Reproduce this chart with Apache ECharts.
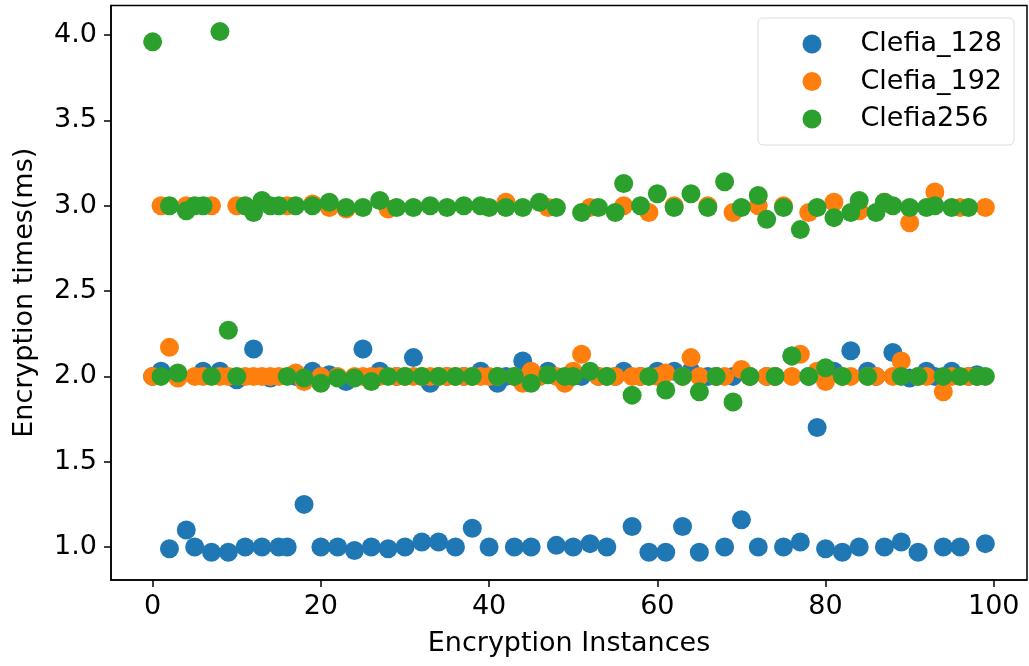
<!DOCTYPE html>
<html>
<head>
<meta charset="utf-8">
<script src="https://cdn.jsdelivr.net/npm/echarts@6/dist/echarts.min.js"></script>
<style>
html,body{margin:0;padding:0;background:#fff;}
#chart{width:1029px;height:666px;}
</style>
</head>
<body>
<div id="chart"></div>
<script>
const instances = [0,1,2,3,4,5,6,7,8,9,10,11,12,13,14,15,16,17,18,19,20,21,22,23,24,25,26,27,28,29,30,31,32,33,34,35,36,37,38,39,40,41,42,43,44,45,46,47,48,49,50,51,52,53,54,55,56,57,58,59,60,61,62,63,64,65,66,67,68,69,70,71,72,73,74,75,76,77,78,79,80,81,82,83,84,85,86,87,88,89,90,91,92,93,94,95,96,97,98,99];

const clefia128 = [2.00,2.03,0.99,2.00,1.10,1.00,2.03,0.97,2.03,0.97,
1.98,1.00,2.16,1.00,1.99,1.00,1.00,2.00,1.25,2.03,
1.00,2.01,1.00,1.97,0.98,2.16,1.00,2.03,0.99,2.00,
1.00,2.11,1.03,1.96,1.03,2.00,1.00,2.00,1.11,2.03,
1.00,1.96,2.00,1.00,2.09,1.00,2.00,2.03,1.01,1.98,
1.00,2.00,1.02,2.00,1.00,2.00,2.03,1.12,2.00,0.97,
2.03,0.97,2.03,1.12,2.03,0.97,2.00,2.00,1.00,2.00,
1.16,2.00,1.00,2.00,2.00,1.00,2.12,1.03,2.00,1.70,
0.99,2.03,0.97,2.15,1.00,2.03,2.00,1.00,2.14,1.03,
1.99,0.97,2.03,2.00,1.00,2.03,1.00,2.00,2.01,1.02];

const clefia192 = [2.00,3.00,2.17,1.99,3.00,2.00,2.00,3.00,2.00,2.00,
3.00,2.00,2.00,2.00,2.00,2.00,3.00,2.02,1.97,3.01,
2.00,2.99,2.00,2.98,2.00,2.00,2.00,2.00,2.98,2.00,
2.00,2.00,2.00,2.00,2.00,2.00,2.00,2.00,2.00,2.00,
2.00,2.00,3.02,2.00,1.96,2.03,2.00,2.99,2.00,1.96,
2.03,2.13,2.99,2.00,2.00,2.00,3.00,2.00,2.00,2.96,
2.00,2.02,3.00,2.00,2.11,2.00,3.00,2.00,2.00,2.96,
2.04,2.00,3.00,2.00,2.00,3.00,2.00,2.13,2.96,2.03,
1.97,3.02,2.00,2.00,2.97,2.00,2.00,3.02,2.00,2.09,
2.90,2.00,2.00,3.08,1.91,2.00,2.99,2.00,2.00,2.99];

const clefia256 = [3.96,2.00,3.00,2.02,2.97,3.00,3.00,2.00,4.02,2.27,
2.00,3.00,2.96,3.03,3.00,3.00,2.00,3.00,1.99,3.00,
1.96,3.02,1.99,2.99,1.99,2.99,1.97,3.03,2.00,2.99,
2.00,2.99,2.00,3.00,2.00,2.99,2.00,3.00,2.00,3.00,
2.99,2.00,2.99,2.00,2.99,1.96,3.02,2.01,2.99,2.00,
2.00,2.96,2.03,2.99,2.00,2.96,3.13,1.89,3.00,2.00,
3.07,1.92,2.99,2.00,3.07,1.91,2.99,2.00,3.14,1.85,
2.99,2.00,3.06,2.92,2.00,2.99,2.12,2.86,2.00,2.99,
2.05,2.93,2.00,2.96,3.03,2.00,2.96,3.02,3.00,2.00,
2.99,2.00,2.99,3.00,2.00,2.99,2.00,2.99,2.00,2.00];

const seriesNames = ['Clefia_128','Clefia_192','Clefia256'];
const seriesColors = ['#1f77b4','#ff7f0e','#2ca02c'];
const xTicks = [0,20,40,60,80,100];
const yTicks = [1.0,1.5,2.0,2.5,3.0,3.5,4.0];

const FONT = 'DejaVu Sans';
const pair = (vals) => instances.map((x, i) => [x, vals[i]]);
const allValues = [clefia128, clefia192, clefia256];

const chart = echarts.init(document.getElementById('chart'), null, {renderer: 'canvas'});
chart.setOption({
  animation: false,
  backgroundColor: '#ffffff',
  textStyle: {fontFamily: FONT},
  grid: {left: 111, right: 2, top: 5.5, bottom: 86, show: true, borderColor: '#000', borderWidth: 1.5, backgroundColor: 'transparent'},
  legend: {
    orient: 'vertical',
    left: 758, top: 18,
    padding: [12.5, 12, 12.5, 44.5],
    itemWidth: 87, itemHeight: 19, itemGap: 10.5,
    icon: 'circle',
    selectedMode: false,
    borderColor: '#dcdcdc', borderWidth: 1, borderRadius: 5,
    backgroundColor: 'rgba(255,255,255,0.8)',
    textStyle: {fontFamily: FONT, fontSize: 27, color: '#000', lineHeight: 27},
    data: seriesNames
  },
  xAxis: {
    type: 'value', min: -4.95, max: 103.95,
    name: 'Encryption Instances', nameLocation: 'middle', nameGap: 50,
    nameTextStyle: {fontFamily: FONT, fontSize: 27, color: '#000'},
    axisLine: {show: true, onZero: false, lineStyle: {color: '#000', width: 1.5}},
    axisTick: {show: true, length: 7, lineStyle: {color: '#000', width: 1.5}, customValues: xTicks},
    axisLabel: {fontFamily: FONT, fontSize: 27, color: '#000', margin: 13, customValues: xTicks},
    splitLine: {show: false}
  },
  yAxis: {
    type: 'value', min: 0.807, max: 4.173,
    name: 'Encryption times(ms)', nameLocation: 'middle', nameGap: 73,
    nameTextStyle: {fontFamily: FONT, fontSize: 27, color: '#000'},
    axisLine: {show: true, onZero: false, lineStyle: {color: '#000', width: 1.5}},
    axisTick: {show: true, length: 7, lineStyle: {color: '#000', width: 1.5}, customValues: yTicks},
    axisLabel: {fontFamily: FONT, fontSize: 27, color: '#000', margin: 14, customValues: yTicks,
      formatter: (v) => v.toFixed(1)},
    splitLine: {show: false}
  },
  series: seriesNames.map((name, k) => ({
    name: name,
    type: 'scatter',
    symbol: 'circle',
    symbolSize: 19,
    itemStyle: {color: seriesColors[k], opacity: 1},
    emphasis: {disabled: true},
    data: pair(allValues[k])
  }))
});
</script>
</body>
</html>
